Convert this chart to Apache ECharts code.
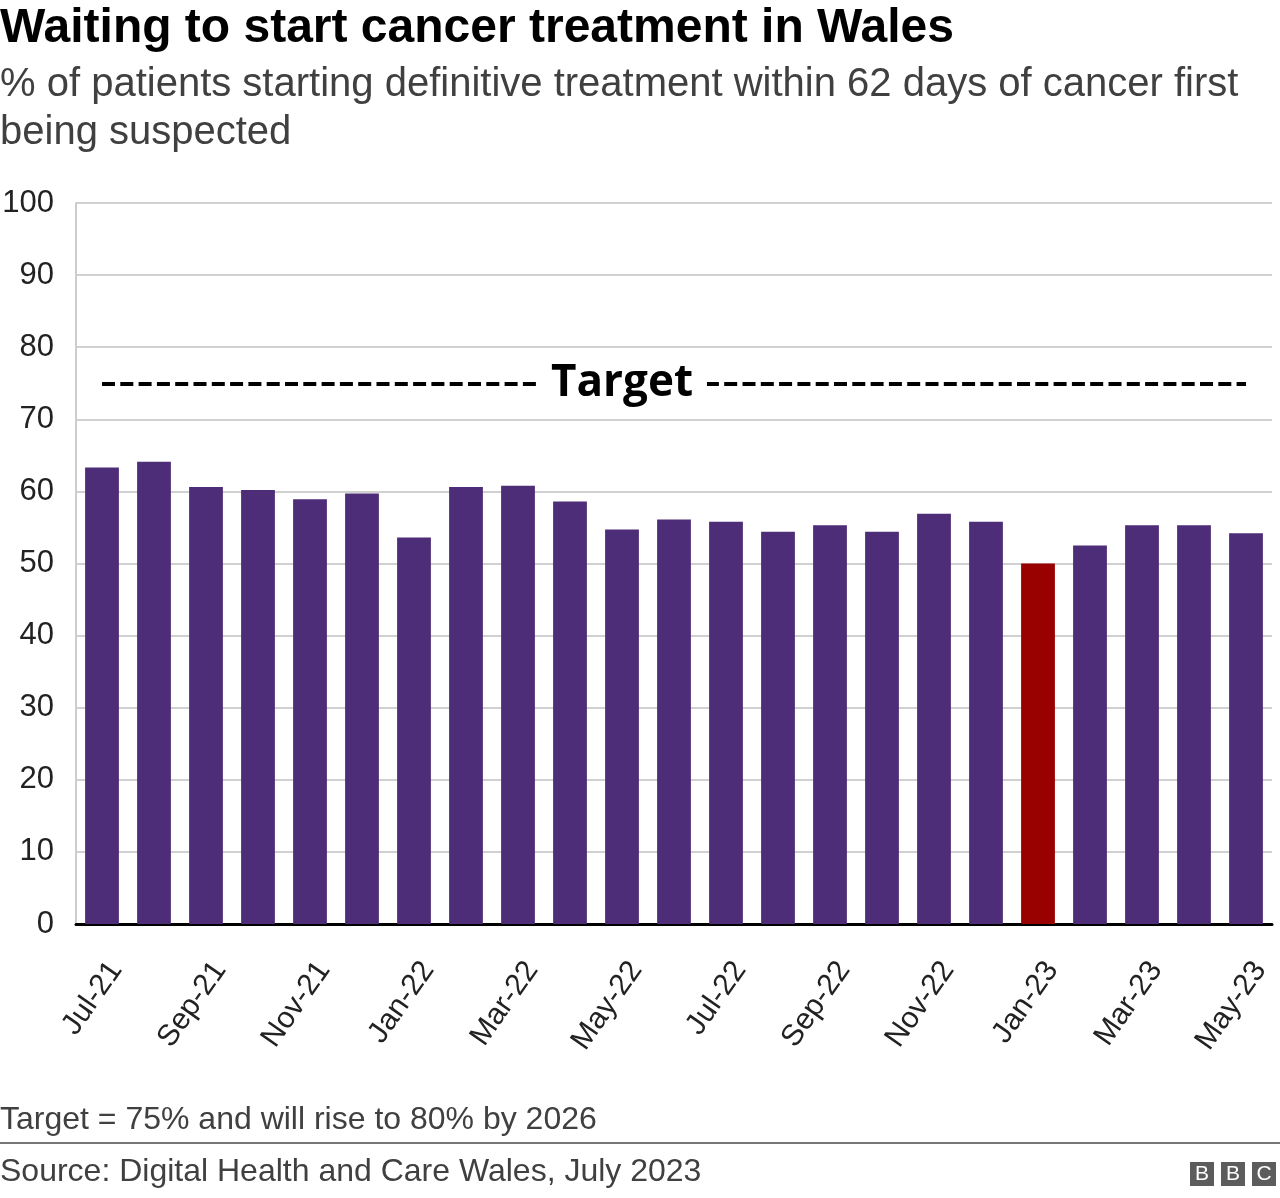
<!DOCTYPE html>
<html>
<head>
<meta charset="utf-8">
<script src="https://cdn.jsdelivr.net/npm/echarts@6/dist/echarts.min.js"></script>
<style>
html,body{margin:0;padding:0;background:#fff;}
#chart{width:1280px;height:1198px;}
</style>
</head>
<body>
<div id="chart"></div>
<script>
const titleText = 'Waiting to start cancer treatment in Wales';
const subtitleText = '% of patients starting definitive treatment within 62 days of cancer first\nbeing suspected';
const noteText = 'Target = 75% and will rise to 80% by 2026';
const sourceText = 'Source: Digital Health and Care Wales, July 2023';
const categories = ['Jul-21','Aug-21','Sep-21','Oct-21','Nov-21','Dec-21','Jan-22','Feb-22','Mar-22','Apr-22','May-22','Jun-22','Jul-22','Aug-22','Sep-22','Oct-22','Nov-22','Dec-22','Jan-23','Feb-23','Mar-23','Apr-23','May-23'];
const values = [63.3,64.1,60.6,60.2,58.9,59.7,53.6,60.6,60.8,58.6,54.7,56.1,55.8,54.4,55.3,54.4,56.9,55.8,50.0,52.5,55.3,55.3,54.2];
const highlighted = ['Jan-23'];
const targetValue = 75;
const targetLabel = 'Target';
const targetLabelAt = 'May-22';
const yTicks = [0,10,20,30,40,50,60,70,80,90,100];

const purple = '#4e2d78';
const red = '#990000';
const font = '"Liberation Sans", Arial, sans-serif';

const chart = echarts.init(document.getElementById('chart'), null, {renderer:'canvas'});
chart.setOption({
  animation:false,
  backgroundColor:'#fff',
  title:[
    {text:titleText, left:0, top:5, padding:0, textStyle:{fontFamily:font, fontSize:48, fontWeight:'bold', color:'#000'}},
    {text:subtitleText, left:0, top:61, padding:0, textStyle:{fontFamily:font, fontSize:40, fontWeight:'normal', color:'#404040', lineHeight:48}},
    {text:noteText, left:0, top:1104, padding:0, textStyle:{fontFamily:font, fontSize:32, fontWeight:'normal', color:'#404040'}},
    {text:sourceText, left:0, top:1156, padding:0, textStyle:{fontFamily:font, fontSize:32, fontWeight:'normal', color:'#404040'}}
  ],
  graphic:[
    {type:'rect', shape:{x:0,y:1142,width:1280,height:2}, style:{fill:'#777'}},
    {type:'group', left:1190, top:1162, children:[
      {type:'rect', shape:{x:0,y:0,width:24,height:24}, style:{fill:'#5c5c5c'}},
      {type:'rect', shape:{x:31,y:0,width:24,height:24}, style:{fill:'#5c5c5c'}},
      {type:'rect', shape:{x:62,y:0,width:24,height:24}, style:{fill:'#5c5c5c'}},
      {type:'text', style:{x:12,y:12.5,text:'B',fill:'#fff',font:'21px '+font,textAlign:'center',textVerticalAlign:'middle'}},
      {type:'text', style:{x:43,y:12.5,text:'B',fill:'#fff',font:'21px '+font,textAlign:'center',textVerticalAlign:'middle'}},
      {type:'text', style:{x:74,y:12.5,text:'C',fill:'#fff',font:'21px '+font,textAlign:'center',textVerticalAlign:'middle'}}
    ]}
  ],
  grid:{left:76, right:8, top:203, bottom:274, containLabel:false, outerBoundsMode:'none'},
  xAxis:{
    type:'category',
    data:categories,
    axisLine:{show:true, lineStyle:{color:'#000', width:3}},
    axisTick:{show:false},
    axisLabel:{interval:1, rotate:55, margin:31, fontFamily:font, fontSize:30, color:'#222',
      verticalAlign:'top', lineHeight:30, padding:[2,0,0,0]},
    splitLine:{show:false}
  },
  yAxis:{
    type:'value',
    min:0, max:100, interval:10,
    axisLine:{show:true, lineStyle:{color:'#cccccc', width:2}},
    axisTick:{show:false},
    axisLabel:{margin:22, fontFamily:font, fontSize:31, color:'#222',
      formatter:function(v){return yTicks.indexOf(v)>=0 ? String(v) : '';}},
    splitLine:{show:true, lineStyle:{color:'#d0d0d0', width:2}}
  },
  series:[{
    type:'bar',
    data:values.map(function(v,i){
      return {value:v, itemStyle:{color: highlighted.indexOf(categories[i])>=0 ? red : purple}};
    }),
    barWidth:'65%',
    markLine:{
      silent:true,
      symbol:['none','none'],
      lineStyle:{color:'#000', width:4, type:[13,5.3]},
      label:{show:false},
      data:[[{coord:[categories[0], targetValue]},{coord:[categories[categories.length-1], targetValue]}]]
    },
    markPoint:{
      silent:true,
      symbol:'rect', symbolSize:1,
      itemStyle:{color:'rgba(0,0,0,0)'},
      label:{show:true, position:'inside', formatter:targetLabel, fontFamily:'"Open Sans", "Liberation Sans", sans-serif', fontSize:44, fontWeight:'bold', color:'#000', backgroundColor:'#fff', padding:[0,14,2,14]},
      data:[{coord:[targetLabelAt, targetValue]}]
    }
  }]
});
</script>
</body>
</html>
